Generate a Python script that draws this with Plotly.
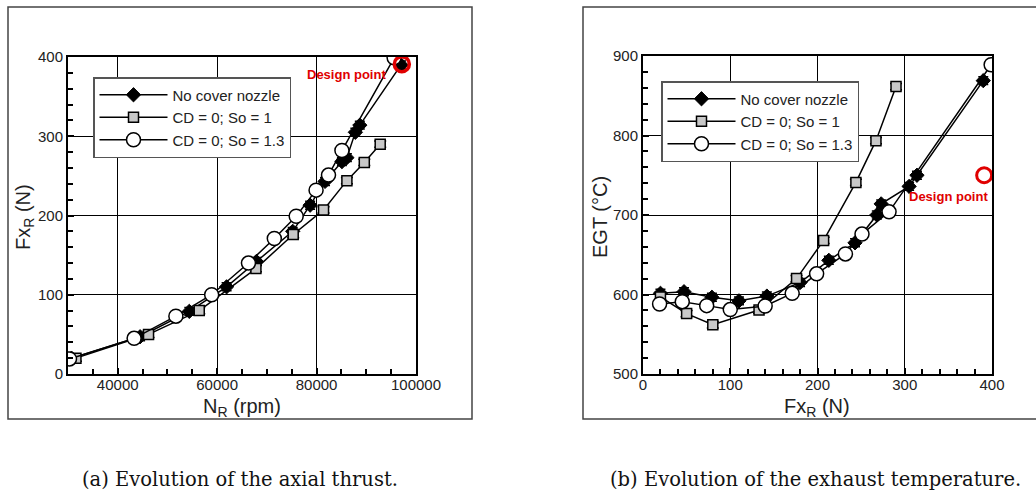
import plotly.graph_objects as go

# ---------------- data ----------------
series_names = ["No cover nozzle", "CD = 0; So = 1", "CD = 0; So = 1.3"]

nc_N = [30700, 44500, 54400, 61900, 67900, 75200, 78700, 81700, 85100, 86100, 87800, 88700, 97000]
nc_F = [20, 47, 79, 110, 142, 180, 213, 243, 268, 273, 305, 314, 390]
nc_EGT = [601.5, 603.5, 596.5, 592, 598, 615, 643, 665, 700, 714, 736, 750, 869]

s1_N = [31600, 46200, 56400, 67800, 75300, 81400, 86100, 89600, 92800]
s1_F = [20, 50, 80, 133, 176, 207, 244, 267, 290]
s1_EGT = [597, 576, 562, 580.5, 620, 668, 741, 793.5, 861.5]

s13_N = [30300, 43300, 51700, 58900, 66300, 71500, 75900, 79900, 82400, 85100, 95600]
s13_F = [19, 45, 73, 100, 140, 171, 199, 232, 251, 282, 399]
s13_EGT = [588, 591, 586, 581, 585.5, 601.5, 626, 651, 676, 704, 889]

design_N = [97150]
design_F = [391]
design_EGT = [750]

x1_ticks = [40000, 60000, 80000, 100000]
y1_ticks = [0, 100, 200, 300, 400]
x2_ticks = [0, 100, 200, 300, 400]
y2_ticks = [500, 600, 700, 800, 900]

captions = ["(a) Evolution of the axial thrust.", "(b) Evolution of the exhaust temperature."]

# ---------------- figure ----------------
W, H = 1036, 493
fig = go.Figure()

styles = [
    dict(marker=dict(symbol="diamond", size=11, color="black", line=dict(color="black", width=1)),
         err=dict(type="constant", value=5, width=5, thickness=1.5, color="black")),
    dict(marker=dict(symbol="square", size=10, color="#c8c8c8", line=dict(color="black", width=1.5)),
         err=dict(type="constant", value=4, width=6, thickness=1.5, color="black")),
    dict(marker=dict(symbol="circle", size=14, color="white", line=dict(color="black", width=1.5)),
         err=None),
]

left_data = [(nc_N, nc_F), (s1_N, s1_F), (s13_N, s13_F)]
right_data = [(nc_F, nc_EGT), (s1_F, s1_EGT), (s13_F, s13_EGT)]

for i, (name, st) in enumerate(zip(series_names, styles)):
    xs, ys = left_data[i]
    fig.add_trace(go.Scatter(
        x=xs, y=ys, mode="lines+markers", name=name,
        line=dict(color="black", width=1.5), marker=st["marker"],
        error_y=st["err"], xaxis="x", yaxis="y", legend="legend"))
for i, (name, st) in enumerate(zip(series_names, styles)):
    xs, ys = right_data[i]
    fig.add_trace(go.Scatter(
        x=xs, y=ys, mode="lines+markers", name=name,
        line=dict(color="black", width=1.5), marker=st["marker"],
        error_y=st["err"], xaxis="x2", yaxis="y2", legend="legend2"))

red = "#e00000"
fig.add_trace(go.Scatter(x=design_N, y=design_F, mode="markers", showlegend=False,
                         marker=dict(symbol="circle-open", size=15, color=red, line=dict(width=3.5, color=red)),
                         xaxis="x", yaxis="y"))
fig.add_trace(go.Scatter(x=design_F, y=design_EGT, mode="markers", showlegend=False,
                         marker=dict(symbol="circle-open", size=15, color=red, line=dict(width=3, color=red)),
                         xaxis="x2", yaxis="y2"))

tickfont = dict(family="Liberation Sans, Arial", size=15, color="#222")
common = dict(showline=True, linecolor="black", linewidth=2, mirror=True,
              showgrid=True, gridcolor="black", gridwidth=1, zeroline=False,
              ticks="inside", ticklen=6, tickcolor="black", tickwidth=1.5,
              tickfont=tickfont, automargin=False, tickformat="d")

def px2x(px):
    return px / W

def px2y(py):
    return 1 - py / H

fig.update_layout(
    width=W, height=H, margin=dict(l=0, r=0, t=0, b=0),
    paper_bgcolor="white", plot_bgcolor="white", showlegend=True,
    xaxis=dict(domain=[px2x(68), px2x(416)], range=[30000, 100000], tickvals=x1_ticks,
               minor=dict(dtick=5000, tick0=0, ticks="inside", ticklen=5, tickcolor="black", showgrid=False),
               anchor="y", ticklabelstandoff=-4, **common),
    yaxis=dict(domain=[px2y(374), px2y(57)], range=[0, 400], tickvals=y1_ticks,
               minor=dict(dtick=20, tick0=0, ticks="inside", ticklen=5, tickcolor="black", showgrid=False),
               anchor="x", **common),
    xaxis2=dict(domain=[px2x(643), px2x(992)], range=[0, 400], tickvals=x2_ticks,
                minor=dict(dtick=20, tick0=0, ticks="inside", ticklen=5, tickcolor="black", showgrid=False),
                anchor="y2", ticklabelstandoff=-4, **common),
    yaxis2=dict(domain=[px2y(374), px2y(56)], range=[500, 900], tickvals=y2_ticks,
                minor=dict(dtick=20, tick0=0, ticks="inside", ticklen=5, tickcolor="black", showgrid=False),
                anchor="x2", **common),
    legend=dict(x=px2x(93), y=px2y(77), xanchor="left", yanchor="top",
                bgcolor="white", bordercolor="#555", borderwidth=1.5,
                font=dict(family="Liberation Sans, Arial", size=15, color="#222"),
                itemwidth=68, tracegroupgap=0),
    legend2=dict(x=px2x(661), y=px2y(81), xanchor="left", yanchor="top",
                 bgcolor="white", bordercolor="#555", borderwidth=1.5,
                 font=dict(family="Liberation Sans, Arial", size=15, color="#222"),
                 itemwidth=68, tracegroupgap=0),
)

# outer frames
fig.add_shape(type="rect", xref="paper", yref="paper", x0=px2x(8), x1=px2x(472),
              y0=px2y(419), y1=px2y(7), line=dict(color="#444", width=1.5), layer="below")
fig.add_shape(type="rect", xref="paper", yref="paper", x0=px2x(583), x1=px2x(1045),
              y0=px2y(419), y1=px2y(7), line=dict(color="#444", width=1.5), layer="below")

title_font = dict(family="Liberation Sans, Arial", size=20, color="#222")
ann = [
    dict(text="Fx<sub>R</sub> (N)", x=px2x(25), y=px2y(217), textangle=-90),
    dict(text="N<sub>R</sub> (rpm)", x=px2x(242), y=px2y(407)),
    dict(text="EGT (°C)", x=px2x(600), y=px2y(217), textangle=-90),
    dict(text="Fx<sub>R</sub> (N)", x=px2x(817), y=px2y(407)),
]
for a in ann:
    fig.add_annotation(xref="paper", yref="paper", showarrow=False, font=title_font,
                       xanchor="center", yanchor="middle", **a)

dp_font = dict(family="Liberation Sans, Arial", size=13, color=red, weight="bold")
fig.add_annotation(text="<b>Design point</b>", x=94400, y=378, xref="x", yref="y",
                   xanchor="right", yanchor="middle", showarrow=False, font=dp_font)
fig.add_annotation(text="<b>Design point</b>", x=350, y=723, xref="x2", yref="y2",
                   xanchor="center", yanchor="middle", showarrow=False, font=dp_font)

cap_font = dict(family="DejaVu Serif, Liberation Serif, serif", size=19.5, color="#111")
fig.add_annotation(text=captions[0], x=px2x(240), y=px2y(492), xref="paper", yref="paper",
                   showarrow=False, font=cap_font, xanchor="center", yanchor="bottom",
                   borderpad=0)
fig.add_annotation(text=captions[1], x=px2x(815), y=px2y(492), xref="paper", yref="paper",
                   showarrow=False, font=cap_font, xanchor="center", yanchor="bottom",
                   borderpad=0)

fig.write_html("out.html")
